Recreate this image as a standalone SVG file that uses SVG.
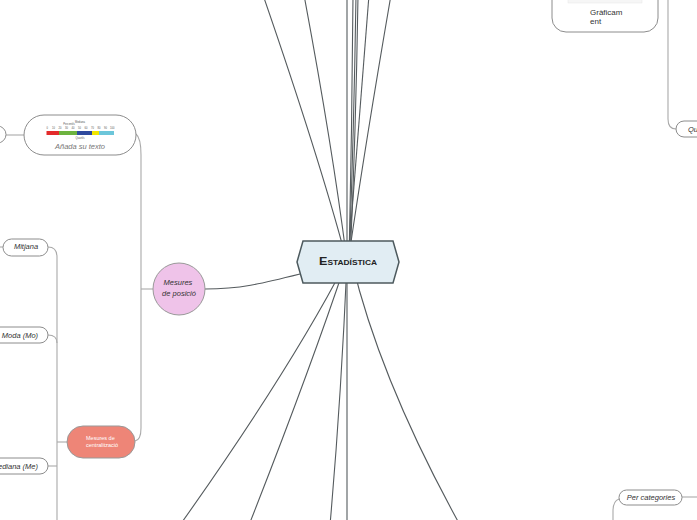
<svg xmlns="http://www.w3.org/2000/svg" width="697" height="520" viewBox="0 0 697 520">
<style>
.main{fill:none;stroke:#555b5e;stroke-width:1.1}
.sub{fill:none;stroke:#a9a9a9;stroke-width:1.1}
.pill{fill:#fff;stroke:#8c8c8c;stroke-width:1}
.lbl{font-family:"Liberation Sans",Arial,sans-serif;font-style:italic;font-size:7.5px;fill:#333}
.tick{font-family:"Liberation Sans",Arial,sans-serif;font-size:2.6px;fill:#555}
</style>
<rect width="697" height="520" fill="#fff"/>
<g id="connectors">
<path class="main" d="M347,262 Q320,160 263,-5"/>
<path class="main" d="M347,262 Q333,150 304,-5"/>
<path class="main" d="M348,262 Q366,140 391,-5"/>
<path class="main" d="M348,262 Q358,140 369,-5"/>
<path class="main" d="M347,262 L347,-5"/>
<path class="main" d="M349,262 Q352,130 353,-5"/>
<path class="main" d="M349,262 Q354,130 356,-5"/>
<path class="main" d="M350,262 Q356,130 358,-5"/>
<path class="main" d="M346,262 Q290,370 180,525"/>
<path class="main" d="M346,262 Q310,370 249,525"/>
<path class="main" d="M347,262 Q341,400 330,525"/>
<path class="main" d="M347,262 L347,525"/>
<path class="main" d="M352,262 Q380,380 460,525"/>
<path class="main" d="M300,274 C260,284 240,289 205,289"/>
<path class="sub" d="M136,134 Q141,138 141,155 L141,428 Q141,440 135,441"/>
<path class="sub" d="M153,289 L141,289"/>
<path class="sub" d="M6,135 L24,135"/>
<path class="sub" d="M0,247 L3,247"/>
<path class="sub" d="M67,442 L57,442"/>
<path class="sub" d="M48,247 Q57,247 57,257 L57,525"/>
<path class="sub" d="M48,335 Q57,335 57,343"/>
<path class="sub" d="M48,466 L57,466"/>
<path class="sub" d="M668,-5 L668,119 Q668,129 676,129"/>
<path class="sub" d="M682,497 L700,497"/>
<path class="sub" d="M619,499 Q613,501 613,511 L613,525"/>
</g>
<g id="estadistica">
<polygon points="303,241 393,241 399,262 393,283 303,283 297,262" fill="#e1edf3" stroke="#4d5a5e" stroke-width="1.5"/>
<text x="348" y="265" text-anchor="middle" font-family="'Liberation Sans',Arial,sans-serif" font-weight="bold" font-size="10.5" font-variant="small-caps" fill="#222" textLength="58" lengthAdjust="spacingAndGlyphs">Estadística</text>
</g>
<g id="mesures-posicio">
<circle cx="179" cy="289" r="26" fill="#efc3e9" stroke="#999" stroke-width="1"/>
<text class="lbl" x="178" y="285" text-anchor="middle" font-size="7">Mesures</text>
<text class="lbl" x="179" y="296" text-anchor="middle" font-size="7">de posició</text>
</g>
<g id="imatge">
<rect class="pill" x="24" y="115" width="112" height="40" rx="20"/>
<text class="tick" x="69" y="125" text-anchor="middle" fill="#a0302a">Percentils</text>
<text class="tick" x="80" y="122.5" text-anchor="middle" fill="#c03a9a">Mediana</text>
<g class="tick">
<text x="46.5" y="129">0</text><text x="52" y="129">10</text><text x="58.5" y="129">20</text><text x="65" y="129">30</text><text x="71.5" y="129">40</text><text x="78" y="129">50</text><text x="84.5" y="129">60</text><text x="91" y="129">70</text><text x="97.5" y="129">80</text><text x="104" y="129">90</text><text x="110" y="129">100</text>
</g>
<rect x="46.5" y="131" width="12.5" height="4" fill="#e32b2b"/>
<rect x="59" y="131" width="18" height="4" fill="#6db33f"/>
<rect x="77" y="131" width="15" height="4" fill="#2e4a9e"/>
<rect x="92" y="131" width="7" height="4" fill="#f2e600"/>
<rect x="99" y="131" width="15" height="4" fill="#6cc6da"/>
<text class="tick" x="80" y="138.5" text-anchor="middle" fill="#e08a20">Quartils</text>
<text class="lbl" x="80" y="149" text-anchor="middle" fill="#777" style="fill:#777">Añada su texto</text>
</g>
<g id="node-esquerra">
<rect class="pill" x="-20" y="126" width="26" height="17" rx="8.5"/>
</g>
<g id="mesures-centralitzacio">
<rect x="67" y="426" width="68" height="32" rx="16" fill="#ee8577" stroke="#999" stroke-width="1"/>
<text x="86" y="440" font-family="'Liberation Sans',Arial,sans-serif" font-size="5.5" fill="#fff">Mesures de</text>
<text x="86" y="447" font-family="'Liberation Sans',Arial,sans-serif" font-size="5.5" fill="#fff">centralització</text>
</g>
<g id="mitjana">
<rect class="pill" x="3" y="239" width="45" height="17" rx="8.5"/>
<text class="lbl" x="26" y="249" text-anchor="middle">Mitjana</text>
</g>
<g id="moda">
<rect class="pill" x="-15" y="327" width="63" height="16" rx="8"/>
<text class="lbl" x="20" y="338" text-anchor="middle">Moda (Mo)</text>
</g>
<g id="mediana">
<rect class="pill" x="-25" y="458" width="73" height="16" rx="8"/>
<text class="lbl" x="38" y="469" text-anchor="end">Mediana (Me)</text>
</g>
<g id="graficament">
<rect class="pill" x="552" y="-20" width="106" height="52" rx="14"/>
<rect x="568" y="-10" width="74" height="13" fill="#f6f6f6" stroke="#e6e6e6" stroke-width="0.5"/>
<text x="590" y="15" font-family="'Liberation Sans',Arial,sans-serif" font-size="8" fill="#333">Gràficam</text>
<text x="590" y="24" font-family="'Liberation Sans',Arial,sans-serif" font-size="8" fill="#333">ent</text>
</g>
<g id="qua">
<rect class="pill" x="676" y="121" width="60" height="16" rx="8"/>
<text class="lbl" x="688" y="132">Qua</text>
</g>
<g id="per-categories">
<rect class="pill" x="619" y="490" width="63" height="15" rx="7.5"/>
<text class="lbl" x="651" y="500" text-anchor="middle">Per categories</text>
</g>
</svg>
